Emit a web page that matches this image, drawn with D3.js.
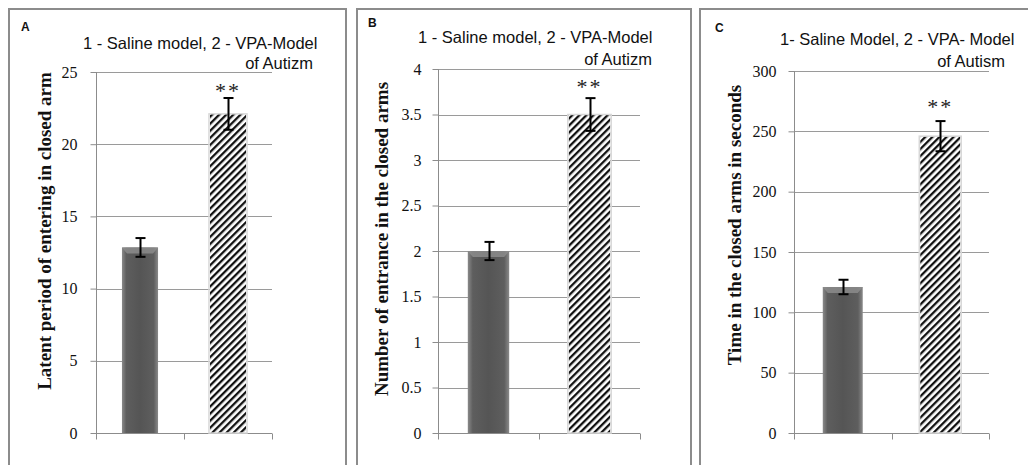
<!DOCTYPE html>
<html><head><meta charset="utf-8">
<script src="https://cdn.jsdelivr.net/npm/d3@7"></script>
<style>body{margin:0;background:#fff}svg{display:block}</style>
</head><body>
<svg id="c" width="1028" height="465"></svg>
<script>
// ---- data ----
const categories = ["1", "2"];
const valuesA = [12.85, 22.1];
const errorsA = [0.65, 1.1];
const valuesB = [2.0, 3.5];
const errorsB = [0.1, 0.18];
const valuesC = [121, 246];
const errorsC = [6, 12.5];
const ticksA = [0, 5, 10, 15, 20, 25];
const ticksB = [0, 0.5, 1, 1.5, 2, 2.5, 3, 3.5, 4];
const ticksC = [0, 50, 100, 150, 200, 250, 300];
const panelLetters = ["A", "B", "C"];
const titles1 = ["1 - Saline model, 2 - VPA-Model", "1 - Saline model, 2 - VPA-Model", "1- Saline Model, 2 - VPA- Model"];
const titles2 = ["of Autizm", "of Autizm", "of Autism"];
const yTitles = ["Latent period of entering in closed arm", "Number of entrance in the closed arms", "Time in the closed arms in seconds"];
const signif = ["**", "**"];

// ---- layout ----
const svg = d3.select("#c");
const defs = svg.append("defs");
const grad = defs.append("linearGradient").attr("id", "gbar").attr("x1", 0).attr("x2", 1).attr("y1", 0).attr("y2", 0);
grad.append("stop").attr("offset", "0%").attr("stop-color", "#8a8a8a");
grad.append("stop").attr("offset", "12%").attr("stop-color", "#5e5e5e");
grad.append("stop").attr("offset", "50%").attr("stop-color", "#555555");
grad.append("stop").attr("offset", "88%").attr("stop-color", "#5e5e5e");
grad.append("stop").attr("offset", "100%").attr("stop-color", "#8a8a8a");
const pat = defs.append("pattern").attr("id", "hatch").attr("patternUnits", "userSpaceOnUse")
  .attr("width", 5).attr("height", 5).attr("patternTransform", "rotate(45)");
pat.append("rect").attr("width", 5).attr("height", 5).attr("fill", "#fff");
pat.append("rect").attr("x", 0).attr("width", 2.3).attr("height", 5).attr("fill", "#111");

const panels = [
  {box: [9, 9, 346], x0: 96, x1: 272, yTop: 72, max: 25, vals: valuesA, errs: errorsA, ticks: ticksA,
   letter: [21, 31], t1: [83, 49], t2r: 313, t2y: 69, ylx: 44, ylc: 231, tickR: 77, starY: 98, barFrac: 0.41},
  {box: [357, 9, 691], x0: 438, x1: 640, yTop: 69, max: 4, vals: valuesB, errs: errorsB, ticks: ticksB,
   letter: [368, 27], t1: [418, 43], t2r: 652, t2y: 65, ylx: 381, ylc: 239, tickR: 421, starY: 94, barFrac: 0.41},
  {box: [700, 9, 1040], x0: 794, x1: 989, yTop: 71, max: 300, vals: valuesC, errs: errorsC, ticks: ticksC,
   letter: [715, 32], t1: [780, 45], t2r: 1005, t2y: 67, ylx: 734, ylc: 225, tickR: 776, starY: 114, barFrac: 0.41}
];
const yBottom = 433;

panels.forEach((p, i) => {
  const g = svg.append("g");
  // border
  g.append("path").attr("d", `M${p.box[0]},470 V${p.box[1]} H${p.box[2]} V470`)
    .attr("fill", "none").attr("stroke", "#8c8c8c").attr("stroke-width", 2);

  const x = d3.scaleBand().domain(categories).range([p.x0, p.x1]).padding(0);
  const y = d3.scaleLinear().domain([0, p.max]).range([yBottom, p.yTop]);

  // gridlines
  g.selectAll(".grid").data(p.ticks.filter(t => t > 0)).join("line")
    .attr("x1", p.x0).attr("x2", p.x1).attr("y1", d => Math.round(y(d)) + 0.5).attr("y2", d => Math.round(y(d)) + 0.5)
    .attr("stroke", "#9a9a9a").attr("stroke-width", 1);

  // y axis
  const yAxis = d3.axisLeft(y).tickValues(p.ticks).tickSize(6).tickPadding(p.x0 - p.tickR - 6)
    .tickFormat(d => String(d));
  const ya = g.append("g").attr("transform", `translate(${p.x0 + 0.5},0)`).call(yAxis);
  ya.select(".domain").attr("stroke", "#8c8c8c").attr("d", `M0,${p.yTop}V${yBottom}`);
  ya.selectAll(".tick line").attr("stroke", "#8c8c8c");
  ya.selectAll(".tick text").attr("font-family", "Liberation Serif, serif").attr("font-size", 16).attr("fill", "#111");

  // x axis
  const xAxis = d3.axisBottom(x).tickSize(0).tickPadding(36);
  const xa = g.append("g").attr("transform", `translate(0,${yBottom + 0.5})`).call(xAxis);
  xa.select(".domain").attr("stroke", "#8c8c8c").attr("d", `M${p.x0},0H${p.x1}`);
  xa.selectAll(".tick text").attr("font-family", "Liberation Serif, serif").attr("font-size", 17)
    .attr("font-weight", "bold").attr("fill", "#111");
  [p.x0, (p.x0 + p.x1) / 2, p.x1].forEach(tx => {
    xa.append("line").attr("x1", Math.round(tx) + 0.5).attr("x2", Math.round(tx) + 0.5).attr("y1", 0).attr("y2", 6)
      .attr("stroke", "#8c8c8c");
  });

  // bars
  const bw = x.bandwidth() * p.barFrac;
  const bx = c => x(c) + (x.bandwidth() - bw) / 2;
  g.selectAll(".bar").data(categories).join("rect")
    .attr("x", c => bx(c)).attr("width", bw)
    .attr("y", (c, j) => y(p.vals[j])).attr("height", (c, j) => yBottom - y(p.vals[j]))
    .attr("fill", (c, j) => j === 0 ? "url(#gbar)" : "url(#hatch)");
  // bevel top of dark bar
  g.append("path")
    .attr("d", () => {
      const X = bx(categories[0]), Y = y(p.vals[0]);
      return `M${X},${Y} H${X + bw} L${X + bw - 5},${Y + 6} H${X + 5} Z`;
    }).attr("fill", "#8e8e8e").attr("opacity", 0.8);
  // soft edges on hatch bar
  g.append("rect").attr("x", bx(categories[1]) - 1).attr("width", bw + 2)
    .attr("y", y(p.vals[1])).attr("height", yBottom - y(p.vals[1]))
    .attr("fill", "none").attr("stroke", "#d8d8d8").attr("stroke-width", 1.5);

  // error bars
  categories.forEach((c, j) => {
    const cx = Math.round(x(c) + x.bandwidth() / 2) + 0.5;
    const yt = y(p.vals[j] + p.errs[j]), yb = y(p.vals[j] - p.errs[j]);
    g.append("line").attr("x1", cx).attr("x2", cx).attr("y1", yt).attr("y2", yb).attr("stroke", "#000").attr("stroke-width", 2);
    g.append("line").attr("x1", cx - 5).attr("x2", cx + 5).attr("y1", yt).attr("y2", yt).attr("stroke", "#000").attr("stroke-width", 2);
    g.append("line").attr("x1", cx - 5).attr("x2", cx + 5).attr("y1", yb).attr("y2", yb).attr("stroke", "#000").attr("stroke-width", 2);
  });

  // significance
  g.append("text").attr("x", x(categories[1]) + x.bandwidth() / 2).attr("y", p.starY)
    .attr("text-anchor", "middle").attr("font-family", "Liberation Serif, serif").attr("font-size", 22)
    .attr("letter-spacing", 2).attr("fill", "#222").text(signif[1]);

  // letters & titles
  g.append("text").attr("x", p.letter[0]).attr("y", p.letter[1]).attr("font-family", "Liberation Sans, Arial, sans-serif")
    .attr("font-weight", "bold").attr("font-size", 12).attr("fill", "#111").text(panelLetters[i]);
  g.append("text").attr("x", p.t1[0]).attr("y", p.t1[1]).attr("font-family", "Liberation Sans, Arial, sans-serif")
    .attr("font-size", 16.5).attr("fill", "#111").text(titles1[i]);
  g.append("text").attr("x", p.t2r).attr("y", p.t2y).attr("text-anchor", "end").attr("font-family", "Liberation Sans, Arial, sans-serif")
    .attr("font-size", 16.5).attr("fill", "#111").text(titles2[i]);

  // y title
  g.append("text").attr("transform", `translate(${p.ylx},${p.ylc}) rotate(-90)`)
    .attr("text-anchor", "middle").attr("dominant-baseline", "central")
    .attr("font-family", "Liberation Serif, serif").attr("font-weight", "bold").attr("font-size", 19)
    .attr("fill", "#111").text(yTitles[i]);
});
</script>
</body></html>
